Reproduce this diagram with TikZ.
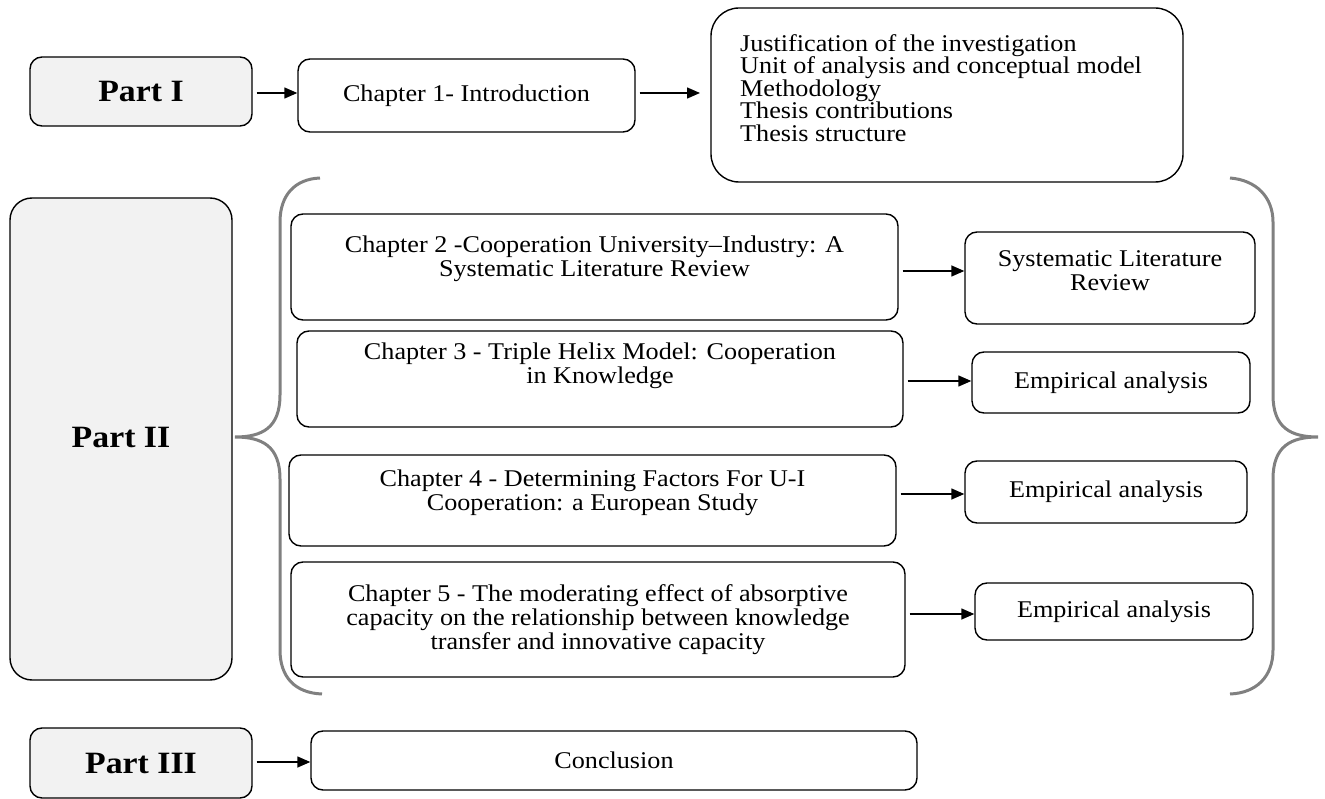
\documentclass[tikz,border=0pt]{standalone}
\usepackage{fontspec}
\setmainfont{Liberation Serif}[FakeStretch=1.09]
\usetikzlibrary{arrows.meta}
\definecolor{partfill}{HTML}{F2F2F2}
\definecolor{bracegray}{HTML}{808080}
\tikzset{
  txt/.style={inner sep=0pt, font=\fontsize{24}{24}\selectfont, align=center},
  box/.style={draw=black, line width=1.4pt, rounded corners=12pt, txt},
  partbox/.style={box, fill=partfill, font=\fontsize{31}{34}\selectfont\bfseries},
  link/.style={line width=1.4pt, -{Triangle[length=13pt,width=11pt]}, shorten <=4pt},
  brace/.style={draw=bracegray, line width=3pt}
}
\begin{document}
\begin{tikzpicture}[x=1pt,y=-1pt]
\useasboundingbox (0,0) rectangle (1325,799);

% Part I
\node[partbox, minimum width=222pt, minimum height=69pt] (p1) at (141,91.5) {Part I};
\node[box, minimum width=337pt, minimum height=73pt] (c1) at (466.5,95.5)
  {\raisebox{2pt}{Chapter 1- Introduction}};
\node[box, rounded corners=28pt, minimum width=472pt, minimum height=174pt] (topics) at (947,95) {};
\node[txt, align=left, anchor=north west, font=\fontsize{24}{22.6}\selectfont] (topicstext) at (740,34)
  {Justification of the investigation\\
   Unit of analysis and conceptual model\\
   Methodology\\
   Thesis contributions\\
   Thesis structure};

% Part II
\node[partbox, rounded corners=22pt, minimum width=222pt, minimum height=482pt] (p2) at (121,439) {\raisebox{3pt}{Part II}};

\node[box, minimum width=607pt, minimum height=106pt] (c2) at (594.5,267) {};
\node[txt] (c2text) at ([yshift=8pt]c2.center)
  {Chapter 2 -Cooperation University--Industry: A\\ Systematic Literature Review};
\node[box, minimum width=290pt, minimum height=92pt] (slr) at (1110,278) {};
\node[txt] (slrtext) at ([yshift=7pt]slr.center) {Systematic Literature\\ Review};

\node[box, minimum width=606pt, minimum height=96pt] (c3) at (600,379) {};
\node[txt] (c3text) at ([yshift=13pt]c3.center)
  {Chapter 3 - Triple Helix Model: Cooperation\\ in Knowledge};
\node[box, minimum width=278pt, minimum height=61pt] (e1) at (1111,382.5) {Empirical analysis};

\node[box, minimum width=607pt, minimum height=91pt] (c4) at (592.5,500.5) {};
\node[txt] (c4text) at ([yshift=8pt]c4.center)
  {Chapter 4 - Determining Factors For U-I\\ Cooperation: a European Study};
\node[box, minimum width=282pt, minimum height=62pt] (e2) at (1106,492) {Empirical analysis};

\node[box, minimum width=614pt, minimum height=115pt] (c5) at (598,619.5)
  {Chapter 5 - The moderating effect of absorptive\\ capacity on the relationship between knowledge\\ transfer and innovative capacity};
\node[box, minimum width=278pt, minimum height=57pt] (e3) at (1114,611.5) {Empirical analysis};

% Part III
\node[partbox, minimum width=222pt, minimum height=70pt] (p3) at (141,763) {Part III};
\node[box, minimum width=606pt, minimum height=59pt] (concl) at (614,760.5) {Conclusion};

% connectors
\draw[link] (p1.east |- 0,93) -- (c1.west |- 0,93);
\coordinate (t1) at (700,93);
\draw[link] (c1.east |- 0,93) -- (t1);
\draw[link] (c2.east |- 0,271) -- (slr.west |- 0,271);
\draw[link] (c3.east |- 0,381) -- (e1.west |- 0,381);
\draw[link] (c4.east |- 0,494) -- (e2.west |- 0,494);
\draw[link] (c5.east |- 0,614) -- (e3.west |- 0,614);
\draw[link] (p3.east |- 0,762) -- (concl.west |- 0,762);

% braces
\draw[brace] (320,178) .. controls (295,179) and (280,195) .. (280,222)
  -- (280,395) .. controls (280,428) and (262,437) .. (235,437)
  .. controls (262,437) and (280,446) .. (280,479)
  -- (280,650) .. controls (280,677) and (295,693) .. (322,694);
\draw[brace] (1230,178) .. controls (1256,180) and (1273,197) .. (1273,222)
  -- (1273,395) .. controls (1273,428) and (1291,437) .. (1318,437)
  .. controls (1291,437) and (1273,446) .. (1273,479)
  -- (1273,650) .. controls (1273,677) and (1256,693) .. (1230,694);
\end{tikzpicture}
\end{document}
